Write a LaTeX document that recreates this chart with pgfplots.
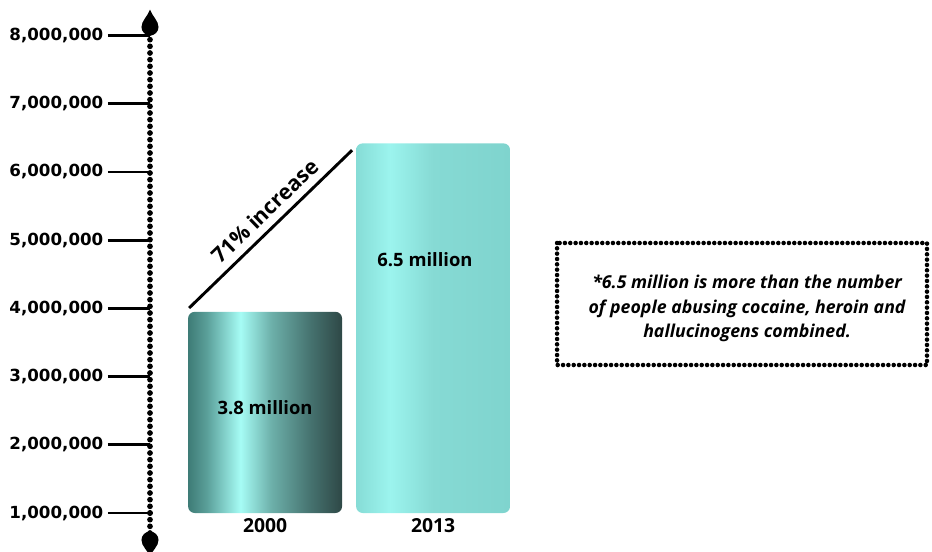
\documentclass[border=0pt]{standalone}
\usepackage{pgfplots}
\pgfplotsset{compat=1.18}
\usepackage{fontspec}
\setmainfont{Open Sans}
\newfontfamily\dvs{DejaVu Sans}
\definecolor{a0}{HTML}{3E7B76}
\definecolor{a1}{HTML}{5A9F99}
\definecolor{a2}{HTML}{A6FCF5}
\definecolor{a3}{HTML}{6DB0AA}
\definecolor{a4}{HTML}{45716E}
\definecolor{a5}{HTML}{2E4846}
\definecolor{b0}{HTML}{86DCD6}
\definecolor{b1}{HTML}{9CF4EE}
\definecolor{b2}{HTML}{86DAD4}
\definecolor{b3}{HTML}{7FD4CE}
\pgfdeclarehorizontalshading{cylA}{100bp}{color(0bp)=(a0); color(25bp)=(a0); color(31bp)=(a1); color(42bp)=(a2); color(52bp)=(a3); color(65bp)=(a4); color(75bp)=(a5); color(100bp)=(a5)}
\pgfdeclarehorizontalshading{cylB}{100bp}{color(0bp)=(b0); color(25bp)=(b0); color(36bp)=(b1); color(50bp)=(b2); color(75bp)=(b3); color(100bp)=(b3)}
\tikzset{
  bead/.style={line width=4.3pt, line cap=round, dash pattern=on 0pt off 5pt},
  beadsmall/.style={line width=3.4pt, line cap=round, dash pattern=on 0pt off 4pt},
}
\begin{document}
\begin{tikzpicture}
\useasboundingbox (-112.5pt,-28.5pt) rectangle (586.5pt,384.75pt);
\begin{axis}[
  scale only axis, width=583.5pt, height=373.4pt,
  xmin=-0.685, xmax=3.946, ymin=1000000, ymax=8300000,
  axis lines*=left,
  x axis line style={draw=none},
  y axis line style={bead},
  xtick={0,1}, xticklabels={2000,2013},
  xtick style={draw=none}, xtick align=inside,
  ytick={1000000,2000000,3000000,4000000,5000000,6000000,7000000,8000000},
  yticklabels={{1,000,000},{2,000,000},{3,000,000},{4,000,000},{5,000,000},{6,000,000},{7,000,000},{8,000,000}},
  ytick align=outside, major tick length=31.5pt,
  ytick style={line width=2.2pt, black},
  yticklabel style={font=\dvs\bfseries\fontsize{12.5}{14}\selectfont},
  xticklabel style={font=\bfseries\fontsize{14.5}{15}\selectfont, yshift=-0.5pt},
  clip mode=individual,
]
\addplot[ybar, bar width=115.5pt, bar shift=0pt, draw=none, shade, shading=cylA, rounded corners=5pt] coordinates {(0,3950000)};
\addplot[ybar, bar width=115.5pt, bar shift=0pt, draw=none, shade, shading=cylB, rounded corners=5pt] coordinates {(1,6420000)};
\draw[line width=2.2pt] (axis cs:-0.452,4006000) -- (axis cs:0.518,6320000);
\node[rotate=44, font=\bfseries\fontsize{16}{16}\selectfont] at (axis cs:0,5430000) {71\% increase};
\node[font=\bfseries\fontsize{13.8}{14}\selectfont] at (axis cs:0,2540000) {3.8 million};
\node[font=\bfseries\fontsize{13.8}{14}\selectfont] at (axis cs:0.952,4720000) {6.5 million};
\draw[beadsmall] (axis cs:1.738,4959000) rectangle (axis cs:3.94,3170000);
\node[align=center, font=\bfseries\itshape\fontsize{13.3}{18.5}\selectfont] at (axis cs:2.869,4000000) {*6.5 million is more than the number\\of people abusing cocaine, heroin and\\hallucinogens combined.};
\end{axis}
\fill (0,377.5pt) .. controls (-1.5pt,373pt) and (-6.4pt,369pt) .. (-6.4pt,364.5pt) arc[start angle=180,end angle=360,radius=6.4pt] .. controls (6.4pt,369pt) and (1.5pt,373pt) .. cycle;
\draw[bead] (0,0) -- (0,-20pt);
\fill (6.4pt,-20.25pt) arc[start angle=0,end angle=180,radius=6.4pt] .. controls (-6.4pt,-25pt) and (-1.5pt,-28pt) .. (0,-33pt) .. controls (1.5pt,-28pt) and (6.4pt,-25pt) .. cycle;
\end{tikzpicture}
\end{document}
